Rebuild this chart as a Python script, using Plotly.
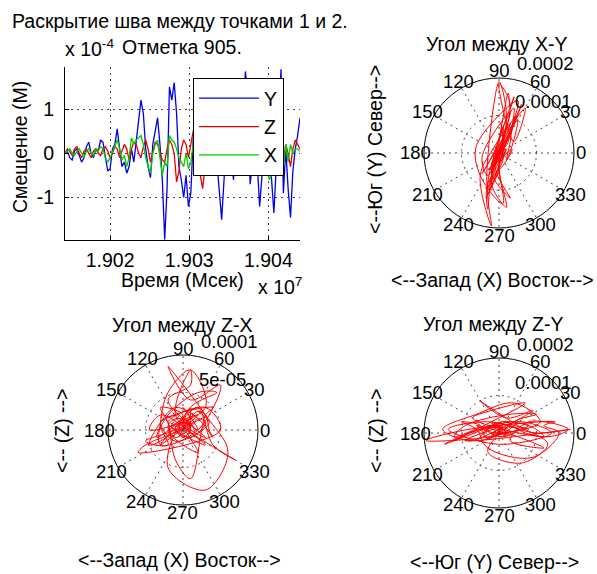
import numpy as np
import plotly.graph_objects as go

# ---------------- data (displacement in units of 1e-4 m) ----------------
T_START_MS = 19014300      # first sample time, ms
T_STEP_MS = 300            # sampling step, ms

y_disp = [0.0, 0.05, -0.1, -0.15, 0.05, 0.1, -0.05, -0.2, -0.1, 0.15,
          0.25, 0.0, -0.1, 0.1, 0.05, 0.3, 0.25, -0.1, -0.4, -0.35,
          0.1, 0.2, 0.55, 0.1, -0.3, -0.2, -0.45, -0.3, 0.1, -0.2,
          0.3, 0.7, 1.2, 0.9, 0.1, -0.3, -0.55, 0.2, 0.5, 0.8,
          0.2, -0.6, -1.95, -0.8, 1.5, 1.2, 1.6, 0.9, -0.3, -0.6,
          -1.0, -0.5, -1.2, -0.9, 0.3, 1.0, 0.4, -0.3, 0.6, 1.3,
          0.5, -0.5, 0.2, 0.9, -0.2, -0.8, -1.5, -0.6, 0.4, 1.1,
          -0.1, -0.6, 0.5, 1.2, 0.3, 0.8, 1.85, 1.3, -0.7, -0.2,
          0.7, -0.4, -1.2, -0.5, 0.6, 1.4, 0.2, -0.6, -1.35, -0.3,
          1.0, 1.9, -0.9, 0.1, -0.8, -1.45, -0.4, 0.1, 0.4, 0.8]

z_disp = [0.0, 0.1, 0.05, -0.05, 0.1, 0.15, 0.0, -0.1, 0.05, 0.1,
          0.0, -0.1, 0.05, 0.1, 0.0, -0.05, 0.1, 0.15, 0.05, -0.1,
          0.0, 0.15, 0.1, -0.1, 0.05, 0.2, 0.1, -0.15, 0.1, 0.25,
          0.2, 0.0, -0.1, 0.15, 0.3, 0.1, -0.2, 0.05, 0.25, 0.2,
          0.0, -0.15, -0.2, 0.1, 0.3, 0.2, 0.0, -0.65, -0.4, 0.1,
          0.3, 0.2, -0.1, 0.2, 0.5, 0.5, 0.3, -0.5, -0.8, -0.3,
          0.2, 0.85, 0.4, 0.6, 0.0, -0.2, 0.1, 0.5, 0.8, 0.3,
          0.0, 0.2, -0.1, -0.4, -0.2, 0.3, 0.1, -0.1, 0.4, 0.6,
          0.8, 0.2, -0.2, 0.1, 0.3, 0.0, -0.3, -0.2, 0.1, 0.3,
          0.0, 0.1, -0.2, 0.2, 0.0, -0.3, 0.1, 0.3, 0.2, 0.1]

x_disp = [0.0, 0.05, 0.1, 0.0, -0.05, 0.05, 0.1, 0.0, -0.1, 0.05,
          0.1, 0.0, -0.05, 0.1, 0.05, 0.15, 0.1, -0.1, -0.2, -0.1,
          0.05, 0.2, 0.3, 0.1, -0.15, -0.05, -0.3, -0.1, 0.35, 0.2,
          0.3, 0.35, 0.4, 0.2, -0.1, -0.3, -0.45, 0.0, 0.2, 0.3,
          -0.1, -0.5, -0.2, -0.3, 0.4, 0.3, 0.25, 0.1, -0.1, -0.2,
          -0.3, 0.0, -0.35, -0.2, 0.2, 0.45, 0.1, -0.2, 0.3, 0.6,
          0.3, -0.2, 0.1, 0.5, 0.2, -0.3, -0.3, -0.2, 0.1, 0.3,
          -0.45, -0.3, 0.2, 0.7, 0.4, 0.2, 0.0, 0.3, -0.2, 0.1,
          0.1, -0.1, 0.3, -0.2, 0.3, 0.5, -0.6, -0.5, 0.1, 0.0,
          0.2, 0.0, -0.3, 0.2, -0.2, 0.2, 0.0, 0.1, 0.1, 0.05]

x_tickvals = [19020000, 19030000, 19040000]
x_ticktext = ["1.902", "1.903", "1.904"]
y_tickvals = [-1, 0, 1]
y_ticktext = ["-1", "0", "1"]
angle_ticks = list(range(0, 360, 30))

# polar panels
SCALE = 1e-4
rmax_xy, rings_xy = 0.0002, ["0.0001", "0.0002"]
rmax_zx, rings_zx = 0.0001, ["5e-05", "0.0001"]
rmax_zy, rings_zy = 0.0002, ["0.0001", "0.0002"]

# ---------------- layout constants ----------------
W, H = 597, 574
FONT = "Liberation Sans, Arial, sans-serif"
FS = 19.5
R_PX = 75
C_XY = (499, 153)
C_ZX = (183, 430)
C_ZY = (499, 433)

time_ms = T_START_MS + T_STEP_MS * np.arange(len(y_disp))
Y = np.array(y_disp)
Z = np.array(z_disp)
X = np.array(x_disp)

fig = go.Figure()

colors = {"Y": "#0000e6", "Z": "#e60000", "X": "#00cc00"}
for name, arr in (("Y", Y), ("Z", Z), ("X", X)):
    fig.add_trace(go.Scatter(x=time_ms, y=arr, mode="lines", name=name,
                             line=dict(color=colors[name], width=1.3),
                             xaxis="x", yaxis="y"))


def polar_trace(h, v, pid):
    r = np.hypot(h, v) * SCALE
    th = np.degrees(np.arctan2(v, h))
    return go.Scatterpolar(r=r, theta=th, mode="lines", subplot=pid,
                           line=dict(color="#ff0000", width=1,
                                     shape="spline", smoothing=1),
                           showlegend=False)


fig.add_trace(polar_trace(X, Y, "polar"))
fig.add_trace(polar_trace(X, Z, "polar2"))
fig.add_trace(polar_trace(Y, Z, "polar3"))


def dom(c):
    cx, cy = c
    return dict(x=[(cx - R_PX) / W, (cx + R_PX) / W],
                y=[1 - (cy + R_PX) / H, 1 - (cy - R_PX) / H])


def polar_layout(c, rmax):
    return dict(
        domain=dom(c), bgcolor="white",
        radialaxis=dict(range=[0, rmax], tickvals=[rmax / 2, rmax],
                        showticklabels=False, ticks="", showline=False,
                        gridcolor="#444", griddash="2px,4px", gridwidth=1),
        angularaxis=dict(tickvals=angle_ticks, showticklabels=False, ticks="",
                         showline=True, linecolor="black", linewidth=1,
                         gridcolor="#444", griddash="2px,4px", gridwidth=1,
                         rotation=0, direction="counterclockwise"),
    )


annotations = []


def ann(text, x, y, xanchor="center", yanchor="middle", size=FS, angle=0):
    annotations.append(dict(text=text, x=x / W, y=1 - y / H, xref="paper",
                            yref="paper", xanchor=xanchor, yanchor=yanchor,
                            showarrow=False, textangle=angle,
                            font=dict(size=size, color="black", family=FONT)))


def polar_labels(c, rings):
    cx, cy = c
    for a in angle_ticks:
        rr = 82 if a != 180 else 84
        ann(str(a), cx + rr * np.cos(np.radians(a)), cy - rr * np.sin(np.radians(a)),
            size=18.5)
    ann(rings[0], cx + 14, cy - 51, xanchor="left", size=18.5)
    ann(rings[1], cx + 16, cy - 89, xanchor="left", size=18.5)


polar_labels(C_XY, rings_xy)
polar_labels(C_ZX, rings_zx)
polar_labels(C_ZY, rings_zy)

# titles / axis labels
ann("Раскрытие шва между точками 1 и 2.", 180, 21)
ann("Отметка 905.", 182, 47)
ann("x 10<sup>-4</sup>", 63, 48, xanchor="left")
ann("Смещение (М)", 20, 147, angle=-90)
ann("Время (Мсек)", 182, 280)
ann("x 10<sup>7</sup>", 256, 286, xanchor="left")

ann("Угол между X-Y", 497, 44)
ann("<--Юг (Y) Север-->", 375, 150, angle=-90)
ann("<--Запад (X) Восток-->", 493, 280)

ann("Угол между Z-X", 182, 325)
ann("<-- (Z) -->", 62, 431, angle=-90)
ann("<--Запад (X) Восток-->", 180, 560)

ann("Угол между Z-Y", 493, 324)
ann("<-- (Z) -->", 376, 431, angle=-90)
ann("<--Юг (Y) Север-->", 494, 562)

fig.update_layout(
    width=W, height=H, margin=dict(l=0, r=0, t=0, b=0),
    paper_bgcolor="white", plot_bgcolor="white",
    font=dict(family=FONT, size=FS, color="black"),
    xaxis=dict(domain=[65 / W, 300 / W], range=[19014300, 19044000],
               tickvals=x_tickvals, ticktext=x_ticktext, ticks="inside",
               ticklen=4, tickcolor="black", showline=True, linecolor="black",
               linewidth=1, showgrid=True, gridcolor="#444",
               griddash="2px,4px", zeroline=False, ticklabelstandoff=3,
               tickfont=dict(size=FS)),
    yaxis=dict(domain=[1 - 240 / H, 1 - 67 / H], range=[-1.96, 1.95],
               tickvals=y_tickvals, ticktext=y_ticktext, ticks="inside",
               ticklen=4, tickcolor="black", showline=True, linecolor="black",
               linewidth=1, showgrid=True, gridcolor="#444",
               griddash="2px,4px", zeroline=False, ticklabelstandoff=6,
               tickfont=dict(size=FS)),
    polar=polar_layout(C_XY, rmax_xy),
    polar2=polar_layout(C_ZX, rmax_zx),
    polar3=polar_layout(C_ZY, rmax_zy),
    legend=dict(x=193 / W, y=1 - 78 / H, xanchor="left", yanchor="top",
                bordercolor="black", borderwidth=1, bgcolor="white",
                font=dict(size=FS), itemwidth=60, tracegroupgap=0),
    annotations=annotations,
    showlegend=True,
)

fig.write_html("out.html",
               config={"displayModeBar": False},
               post_script="document.body.style.margin='0';"
                           "document.body.style.padding='0';")
